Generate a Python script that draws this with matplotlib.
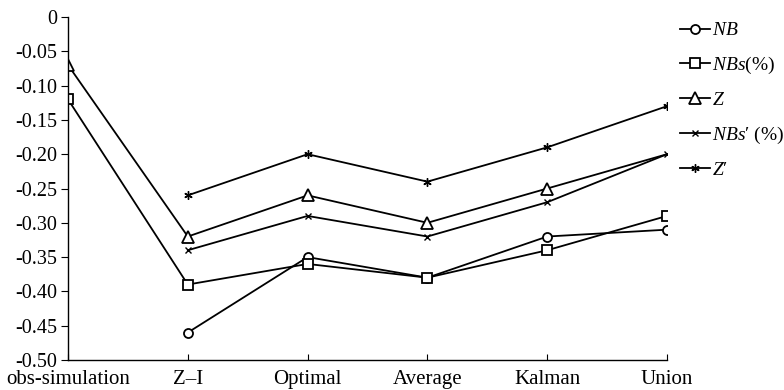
import matplotlib.pyplot as plt
from matplotlib.ticker import FuncFormatter

plt.rcParams['font.family'] = 'Liberation Serif'
plt.rcParams['mathtext.fontset'] = 'custom'
plt.rcParams['mathtext.it'] = 'Liberation Serif:italic'
plt.rcParams['mathtext.rm'] = 'Liberation Serif'
plt.rcParams['axes.unicode_minus'] = False

methods = ['obs-simulation', 'Z\u2013I', 'Optimal', 'Average', 'Kalman', 'Union']

nb = [None, -0.46, -0.35, -0.38, -0.32, -0.31]
nbs = [-0.12, -0.39, -0.36, -0.38, -0.34, -0.29]
z = [-0.07, -0.32, -0.26, -0.30, -0.25, -0.20]
nbs_p = [None, -0.34, -0.29, -0.32, -0.27, -0.20]
z_p = [None, -0.26, -0.20, -0.24, -0.19, -0.13]

fig = plt.figure(figsize=(7.84, 3.90), dpi=100)
ax = fig.add_axes([68 / 784, 1 - 360 / 390, (667 - 68) / 784, (360 - 17) / 390])

def pts(vals):
    xs = [i for i, v in enumerate(vals) if v is not None]
    ys = [v for v in vals if v is not None]
    return xs, ys

lw = 1.3
common = dict(color='black', linewidth=lw, markerfacecolor='white',
              markeredgecolor='black', markeredgewidth=1.3)

x, y = pts(nb)
ax.plot(x, y, marker='o', markersize=6.5, label='$NB$', **common)
x, y = pts(nbs)
ax.plot(x, y, marker='s', markersize=7, label='$NBs$(%)', **common)
x, y = pts(z)
ax.plot(x, y, marker='^', markersize=9, markevery=list(range(len(x) - 1)),
        label='$Z$', **common)
x, y = pts(nbs_p)
ax.plot(x, y, marker='x', markersize=5, label='$NBs$\u2032 (%)',
        color='black', linewidth=lw, markeredgewidth=1.0)
x, y = pts(z_p)
ax.plot(x, y, marker=(6, 2, 0), markersize=6, label='$Z$\u2032',
        color='black', linewidth=lw, markeredgewidth=1.0)

ax.set_xlim(0, 5)
ax.set_ylim(-0.50, 0)
ax.set_xticks(range(len(methods)))
ax.set_xticklabels(methods, fontsize=15)
ax.set_yticks([-0.05 * i for i in range(11)])
ax.yaxis.set_major_formatter(FuncFormatter(lambda v, p: '0' if abs(v) < 1e-9 else f'{v:.2f}'))
ax.tick_params(axis='y', direction='out', length=5, labelsize=14.5, pad=3)
ax.tick_params(axis='x', direction='in', length=4, pad=7)

for s in ['top', 'right']:
    ax.spines[s].set_visible(False)
for s in ['left', 'bottom']:
    ax.spines[s].set_linewidth(1.0)

fig.legend(loc='upper left', bbox_to_anchor=(672 / 784, 1 - 14 / 390),
           frameon=False, fontsize=14, handlelength=1.55, handletextpad=0.1,
           labelspacing=0.8, numpoints=1, borderaxespad=0)

fig.savefig('out.png', dpi=100)
